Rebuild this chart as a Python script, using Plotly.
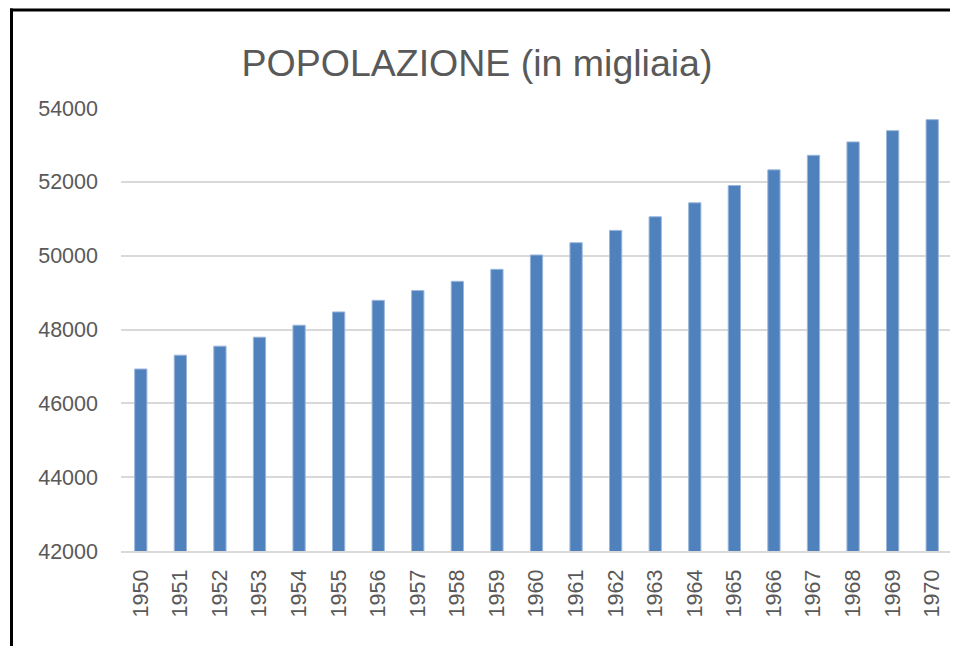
import plotly.graph_objects as go

years = [str(y) for y in range(1950, 1971)]
popolazione = [46930, 47305, 47549, 47792, 48116, 48476, 48790, 49054, 49305, 49630,
               50019, 50351, 50684, 51054, 51432, 51900, 52324, 52719, 53081, 53386, 53684]
y_ticks = [42000, 44000, 46000, 48000, 50000, 52000, 54000]

# the page body adds an 8px margin, so the figure is sized to fit the window
W, H = 950, 638
ml, mr, mt, mb = 113, 6, 99.5, 95
pw = W - ml - mr
ph = H - mt - mb

fig = go.Figure(go.Bar(
    x=years, y=popolazione,
    marker=dict(color="#4f81bd", line=dict(color="#9cb7dc", width=1)),
))

grey = "#595959"
fig.update_layout(
    width=W, height=H,
    margin=dict(l=ml, r=mr, t=mt, b=mb),
    paper_bgcolor="white", plot_bgcolor="white",
    bargap=0.69,
    showlegend=False,
    font=dict(family="Liberation Sans, Arial, sans-serif", color=grey),
    title=dict(text="POPOLAZIONE (in migliaia)", x=(477 - 8) / W, xref="container", xanchor="center",
               y=1 - 55 / H, yref="container", yanchor="middle",
               font=dict(size=37.5, color=grey, family="Liberation Sans, Arial, sans-serif")),
    xaxis=dict(type="category", tickangle=-90, tickfont=dict(size=21.5, color=grey),
               showgrid=False, showline=True, linecolor="#d9d9d9", linewidth=2,
               ticks="", ticklabelstandoff=8),
    yaxis=dict(range=[42000, 54000], tickvals=y_ticks, tickformat="d",
               tickfont=dict(size=21.5, color=grey),
               showgrid=True, gridcolor="#d9d9d9", gridwidth=2, zeroline=False,
               ticks="", ticklabelstandoff=22),
    shapes=[
        dict(type="line", xref="paper", yref="paper",
             x0=(2 - ml) / pw, x1=(W - ml) / pw,
             y0=1 + (mt - 1.5) / ph, y1=1 + (mt - 1.5) / ph,
             line=dict(color="black", width=3)),
        dict(type="line", xref="paper", yref="paper",
             x0=(3.5 - ml) / pw, x1=(3.5 - ml) / pw,
             y0=1 + mt / ph, y1=-(mb) / ph,
             line=dict(color="black", width=3)),
    ],
)

fig.write_html("out.html")
